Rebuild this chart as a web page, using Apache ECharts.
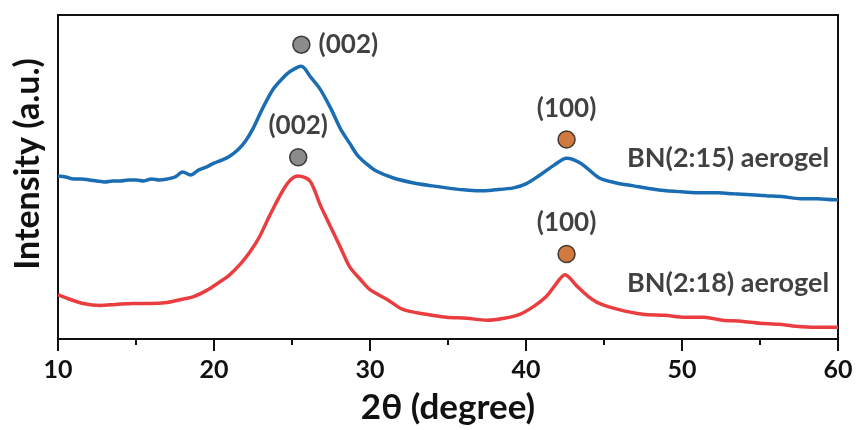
<!DOCTYPE html>
<html>
<head>
<meta charset="utf-8">
<script src="https://cdn.jsdelivr.net/npm/echarts@6/dist/echarts.min.js"></script>
<style>html,body{margin:0;padding:0;background:#fff}#c{width:857px;height:430px}</style>
</head>
<body>
<div id="c"></div>
<script>
// 2θ (degree) and intensity (a.u., offset stacked)
const blueX = [10.0,10.5,11.0,11.5,12.0,12.5,13.0,13.5,14.0,14.5,15.0,15.5,16.0,16.5,17.0,17.5,18.0,18.5,19.0,19.5,20.0,20.5,21.0,21.5,22.0,22.5,23.1,23.8,24.4,24.9,25.6,26.2,26.8,27.5,28.1,28.7,29.2,29.8,30.4,31.5,32.8,34.0,34.9,36.0,37.0,38.0,39.2,40.0,40.9,41.8,42.6,43.5,44.7,45.8,46.9,48.0,49.0,50.0,51.2,52.3,53.3,54.4,55.4,56.5,57.6,58.7,59.7,60.0];
const blueY = [165,164,162,162,161,160,159,160,160,161,161,160,162,161,162,164,169,166,171,174,178,181,185,191,200,213,233,253,264,271,276,265,253,233,213,198,186,177,170,163,158,155,153,151,150,151,153,157,166,176,183,178,163,158,155,152,150,149,148,148,147,146,145,144,142,142,141,141];
const redX = [10.0,10.8,11.6,12.7,13.7,14.8,15.9,17.0,17.9,18.7,19.5,20.2,21.0,21.7,22.3,22.9,23.6,24.4,24.9,25.4,26.15,26.8,27.4,28.1,28.7,29.4,30.0,31.1,32.1,33.6,34.9,36.2,37.5,38.6,39.6,40.5,41.3,41.8,42.5,43.3,44.0,44.7,45.9,47.5,48.9,50.2,51.4,52.6,53.8,55.0,56.2,57.3,58.6,59.8,60.0];
const redY = [45,40,36,34,35,36,36,37,40,43,49,56,65,76,88,103,126,150,161,165,160,136,116,93,73,60,50,40,30,25,22,21,19,21,25,33,43,53,65,53,43,36,30,25,24,22,22,19,18,16,15,13,12,12,12];
const seriesNames = ['BN(2:15) aerogel','BN(2:18) aerogel'];
const seriesLabelPos = [[52.95,183],[52.95,56]];
const peakGray = [[25.6,298,'(002)','right'],[25.4,184,'(002)','top']];
const peakOrange = [[42.6,202,'(100)','top'],[42.6,86,'(100)','top']];
const xTicks = {min:10,max:60,interval:10};
const yTitle = 'Intensity (a.u.)';
const xTitle = '2θ (degree)';

const FONT = 'Lato';
const chart = echarts.init(document.getElementById('c'), null, {renderer:'canvas'});
const zip = (xs, ys) => xs.map((x,i)=>[x,ys[i]]);
const peakLabel = (p) => ({
  value:[p[0],p[1]],
  label:{show:true, formatter:p[2], position:p[3], distance: p[3]==='right'?8:9,
    fontFamily:FONT, fontWeight:'bold', fontSize:26, color:'#111'}
});
chart.setOption({
  animation:false,
  grid:{left:58,right:19,top:15,bottom:87,show:true,borderColor:'#111',borderWidth:2,containLabel:false},
  graphic:[{type:'text',x:28,y:164,rotation:Math.PI/2,
    style:{text:yTitle,fontFamily:FONT,fontWeight:'bold',fontSize:34,fill:'#111',align:'center',verticalAlign:'middle'}}],
  xAxis:{type:'value',min:xTicks.min,max:xTicks.max,interval:xTicks.interval,
    name:xTitle,nameLocation:'middle',nameGap:51,
    nameTextStyle:{fontFamily:FONT,fontWeight:'bold',fontSize:35,color:'#111'},
    axisLine:{show:true,lineStyle:{color:'#111',width:2}},
    axisTick:{show:true,length:12,inside:false,lineStyle:{color:'#111',width:2}},
    minorTick:{show:true,splitNumber:2,length:6,lineStyle:{color:'#111',width:2}},
    axisLabel:{margin:18,fontFamily:FONT,fontWeight:'bold',fontSize:25,color:'#111'},
    splitLine:{show:false}},
  yAxis:{type:'value',min:0,max:328,
    axisLine:{show:true,lineStyle:{color:'#111',width:2}},
    axisTick:{show:false},axisLabel:{show:false},splitLine:{show:false}},
  series:[
    {type:'line',name:seriesNames[0],data:zip(blueX,blueY),showSymbol:false,smooth:0.3,
      lineStyle:{color:'#1b6db3',width:3.5},z:2},
    {type:'line',name:seriesNames[1],data:zip(redX,redY),showSymbol:false,smooth:0.3,
      lineStyle:{color:'#e93d40',width:3.5},z:2},
    {type:'scatter',symbol:'circle',symbolSize:17,z:5,
      itemStyle:{color:'#6e6e6e',borderColor:'#1a1a1a',borderWidth:1.5},
      data:peakGray.map(peakLabel)},
    {type:'scatter',symbol:'circle',symbolSize:17,z:5,
      itemStyle:{color:'#c4590f',borderColor:'#1a1a1a',borderWidth:1.5},
      data:peakOrange.map(peakLabel)},
    {type:'scatter',symbolSize:0,z:5,silent:true,
      data:seriesLabelPos.map((p,i)=>({value:p,label:{show:true,position:'inside',formatter:seriesNames[i],
        fontFamily:FONT,fontWeight:'bold',fontSize:27,color:'#111'}}))}
  ]
});
</script>
</body>
</html>
